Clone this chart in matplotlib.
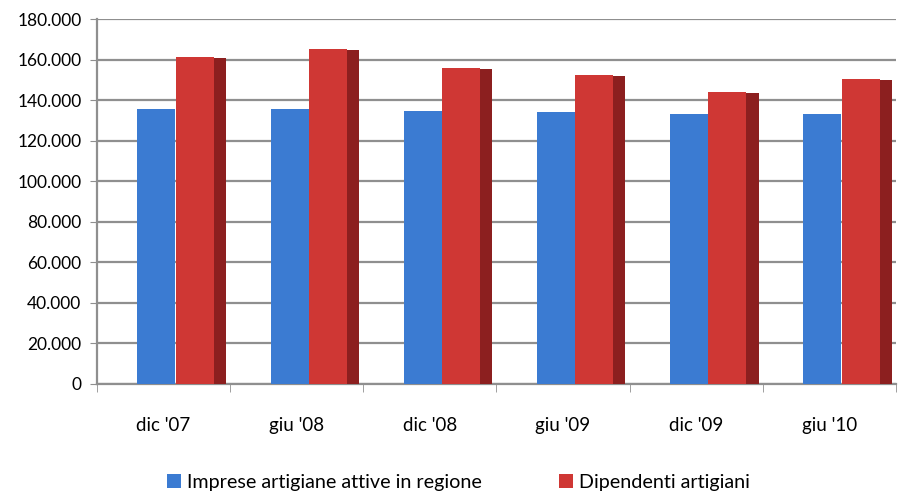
import numpy as np
import matplotlib.pyplot as plt
from matplotlib.patches import Rectangle

# Data
periods = ["dic '07", "giu '08", "dic '08", "giu '09", "dic '09", "giu '10"]
imprese = [135600, 135900, 134900, 134100, 133200, 133500]
dipendenti = [161600, 165300, 156200, 152600, 144200, 150600]
series_names = ["Imprese artigiane attive in regione", "Dipendenti artigiani"]

blue = '#3b7bd2'
red = '#cf3734'
red_side = '#8c1f1f'

plt.rcParams['font.family'] = ['Lato', 'DejaVu Sans']

fig = plt.figure(figsize=(9.17, 5.03), dpi=100)
ax = fig.add_axes([0.1055, 0.2366, 0.8715, 0.7247])

x = np.arange(len(periods))
w = 0.285
depth = 0.092

# front faces
ax.bar(x - 0.195, imprese, width=w, align='edge', color=blue, zorder=3,
       label=series_names[0])
ax.bar(x + 0.092, dipendenti, width=w, align='edge', color=red, zorder=3,
       label=series_names[1])

# dark side face of the red bars
for xi, v in zip(x, dipendenti):
    x0 = xi + 0.092 + w
    ax.add_patch(Rectangle((x0, 0), depth, v - 600, color=red_side,
                           zorder=2.9, linewidth=0))

ax.set_xlim(-0.5, len(periods) - 0.5)
ax.set_ylim(0, 180000)
ax.set_yticks(range(0, 180001, 20000))
ax.set_yticklabels([f"{v:,}".replace(',', '.') for v in range(0, 180001, 20000)])
ax.set_xticks(x)
ax.set_xticklabels(periods)
ax.set_xticks(np.arange(-0.5, len(periods)), minor=True)

ax.grid(axis='y', color='#8f8f8f', linewidth=1.6, zorder=0)
for s in ['top', 'right']:
    ax.spines[s].set_visible(False)
for s in ['left', 'bottom']:
    ax.spines[s].set_color('#8f8f8f')
    ax.spines[s].set_linewidth(1.6)

ax.tick_params(axis='y', length=5, color='#8f8f8f', labelsize=12.5, pad=6)
ax.tick_params(axis='x', which='major', length=0, labelsize=13.5, pad=24)
ax.tick_params(axis='x', which='minor', length=6, color='#8f8f8f')

fig.legend(loc='lower center', bbox_to_anchor=(0.5, -0.012), ncol=2,
           frameon=False, fontsize=14.2, handlelength=0.7, handleheight=0.7,
           handletextpad=0.3, columnspacing=3.9)

fig.savefig('out.png', dpi=100)
